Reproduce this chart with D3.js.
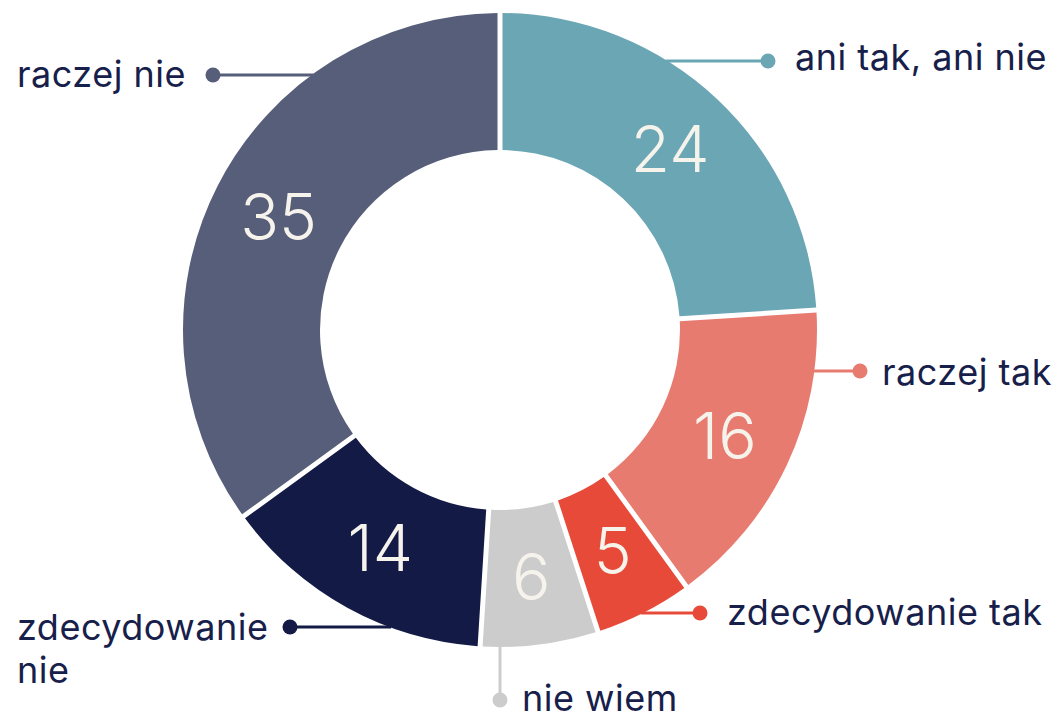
<!DOCTYPE html>
<html>
<head>
<meta charset="utf-8">
<script src="https://cdn.jsdelivr.net/npm/d3@7"></script>
<style>
  html, body { margin: 0; padding: 0; background: #ffffff; }
  svg { display: block; }
  text { font-family: Inter, "Noto Sans", sans-serif; }
</style>
</head>
<body>
<svg id="chart" width="1058" height="716"></svg>
<script>
// Answer categories, in clockwise order from 12 o'clock
const categories = ["ani tak, ani nie", "raczej tak", "zdecydowanie tak", "nie wiem", "zdecydowanie nie", "raczej nie"];
// Share of answers (%)
const values = [24, 16, 5, 6, 14, 35];
// Slice colours
const colors = ["#6aa6b4", "#e87b6f", "#e84a3a", "#cccccc", "#121a45", "#575e7a"];
// Label text lines
const labelLines = [["ani tak, ani nie"], ["raczej tak"], ["zdecydowanie tak"], ["nie wiem"], ["zdecydowanie", "nie"], ["raczej nie"]];

// Callout placement: dot position, leader direction and text origin
const callouts = [
  { dot: [768, 61],  dir: "h", text: [795, 70],  anchor: "start" },
  { dot: [860, 371], dir: "h", text: [882, 385], anchor: "start" },
  { dot: [700, 613], dir: "h", text: [727, 625], anchor: "start" },
  { dot: [500, 700], dir: "v", text: [522, 711], anchor: "start" },
  { dot: [290, 627], dir: "h", text: [17, 640],  anchor: "start" },
  { dot: [213, 75],  dir: "h", text: [17, 87],   anchor: "start" }
];

const cx = 500, cy = 330;
const outerR = 317, innerR = 180;
const gap = 5;

const svg = d3.select("#chart");
const g = svg.append("g").attr("transform", `translate(${cx},${cy})`);

const data = categories.map((c, i) => ({ name: c, value: values[i], color: colors[i], lines: labelLines[i], callout: callouts[i] }));

const pie = d3.pie().sort(null).value(d => d.value);
const arcs = pie(data);

const arc = d3.arc()
  .innerRadius(innerR)
  .outerRadius(outerR)
  .padRadius(outerR)
  .padAngle(gap / outerR);

const labelArc = d3.arc().innerRadius((innerR + outerR) / 2).outerRadius((innerR + outerR) / 2);

g.selectAll("path.slice")
  .data(arcs)
  .join("path")
  .attr("class", "slice")
  .attr("d", arc)
  .attr("fill", d => d.data.color);

// Value labels inside the ring
g.selectAll("text.value")
  .data(arcs)
  .join("text")
  .attr("class", "value")
  .attr("transform", d => `translate(${labelArc.centroid(d)})`)
  .attr("text-anchor", "middle")
  .attr("dy", "0.36em")
  .attr("font-size", 64)
  .attr("font-weight", 300)
  .attr("fill", "#f5f3ec")
  .text(d => d.data.value);

// Leader lines: from the outer rim to the dot
const callG = svg.append("g");
data.forEach(d => {
  const c = d.callout;
  let x1, y1;
  if (c.dir === "h") {
    const dy = c.dot[1] - cy;
    const dx = Math.sqrt(outerR * outerR - dy * dy);
    x1 = c.dot[0] > cx ? cx + dx - 2 : cx - dx + 2;
    y1 = c.dot[1];
  } else {
    const dx = c.dot[0] - cx;
    const dy = Math.sqrt(outerR * outerR - dx * dx);
    x1 = c.dot[0];
    y1 = c.dot[1] > cy ? cy + dy - 2 : cy - dy + 2;
  }
  callG.append("line")
    .attr("x1", x1).attr("y1", y1)
    .attr("x2", c.dot[0]).attr("y2", c.dot[1])
    .attr("stroke", d.color)
    .attr("stroke-width", 3);
  callG.append("circle")
    .attr("cx", c.dot[0]).attr("cy", c.dot[1])
    .attr("r", 7.5)
    .attr("fill", d.color);
  const t = callG.append("text")
    .attr("x", c.text[0]).attr("y", c.text[1])
    .attr("text-anchor", c.anchor)
    .attr("font-size", 36)
    .attr("letter-spacing", 0.5)
    .attr("fill", "#17204a");
  d.lines.forEach((ln, i) => {
    t.append("tspan").attr("x", c.text[0]).attr("y", c.text[1] + i * 43).text(ln);
  });
});
</script>
</body>
</html>
